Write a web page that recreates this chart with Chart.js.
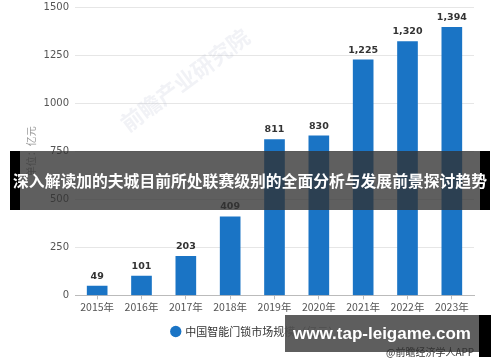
<!DOCTYPE html>
<html>
<head>
<meta charset="utf-8">
<script src="https://cdn.jsdelivr.net/npm/chart.js@4"></script>
<style>
  html, body { margin: 0; padding: 0; background: #fff; }
  #wrap { position: relative; width: 500px; height: 362px; overflow: hidden; }
  canvas { position: absolute; left: 0; top: -5px; }
  .band {
    position: absolute; left: 10px; top: 151px; width: 480px; height: 59px;
    background: rgba(50,50,50,0.78);
  }
  .band .lside, .band .rside { position: absolute; top: 0; width: 10px; height: 59px; background: #000; }
  .band .lside { left: 0; }
  .band .rside { right: 0; }
  .band .txt {
    position: absolute; left: 0; top: 0; width: 480px; height: 59px;
    color: #fff; font: bold 15.8px "Noto Sans CJK SC", sans-serif;
    line-height: 59px; text-align: center; white-space: nowrap;
  }
  .url {
    position: absolute; left: 285px; top: 315px; width: 194px; height: 37px;
    background: rgba(80,80,80,0.92);
    color: #fff; font: bold 17px "Liberation Sans", sans-serif; line-height: 37px; text-align: center;
  }
  .urlside { position: absolute; left: 479px; top: 315px; width: 12px; height: 42px; background: #000; }
  .src {
    position: absolute; left: 386px; top: 344px; color: #333;
    font: 10px "Noto Sans CJK SC", sans-serif;
  }
</style>
</head>
<body>
<div id="wrap">
  <canvas id="myChart" width="500" height="367"></canvas>
  <div class="band"><div class="lside"></div><div class="rside"></div>
    <div class="txt">深入解读加的夫城目前所处联赛级别的全面分析与发展前景探讨趋势</div></div>
  <div class="url">www.tap-leigame.com</div>
  <div class="urlside"></div>
  <div class="src">@前瞻经济学人APP</div>
</div>
<script>
// chart data
var years = ['2015年', '2016年', '2017年', '2018年', '2019年', '2020年', '2021年', '2022年', '2023年'];
var marketSize = [49, 101, 203, 409, 811, 830, 1225, 1320, 1394];
var yTicks = [0, 250, 500, 750, 1000, 1250, 1500];
var seriesName = '中国智能门锁市场规模（亿元）';
var unitTitle = '单位：亿元';

var cjk = '"Noto Sans CJK SC", sans-serif';

// value labels over the bars + faint watermark
var barLabels = {
  id: 'barLabels',
  afterLayout: function(chart) {
    // legend sits a bit right of centre in the original
    chart.legend.left += 6;
    chart.legend.right += 6;
  },
  beforeDatasetsDraw: function(chart) {
    var c = chart.ctx;
    c.save();
    c.translate(185, 85);
    c.rotate(-0.64);
    c.fillStyle = 'rgba(190,198,212,0.22)';
    c.font = 'bold 22px ' + cjk;
    c.textAlign = 'center';
    c.fillText('前瞻产业研究院', 0, 0);
    c.restore();
  },
  afterDatasetsDraw: function(chart) {
    var c = chart.ctx;
    var meta = chart.getDatasetMeta(0);
    c.save();
    c.fillStyle = '#333';
    c.font = 'bold 9.5px "DejaVu Sans", sans-serif';
    c.textAlign = 'center';
    c.textBaseline = 'bottom';
    meta.data.forEach(function(bar, i) {
      c.fillText(marketSize[i].toLocaleString('en-US'), bar.x, bar.y - 5);
    });
    c.restore();
  }
};

var ctx = document.getElementById('myChart').getContext('2d');
var chart = new Chart(ctx, {
  type: 'bar',
  data: {
    labels: years,
    datasets: [{
      label: seriesName,
      backgroundColor: '#1a74c5',
      borderWidth: 0,
      data: marketSize,
      barThickness: 20
    }]
  },
  plugins: [barLabels],
  options: {
    responsive: false,
    animation: false,
    layout: { padding: { top: -3, right: 26, bottom: 15, left: 25 } },
    plugins: {
      legend: {
        position: 'bottom',
        labels: {
          usePointStyle: true,
          pointStyle: 'circle',
          boxWidth: 8,
          boxHeight: 8,
          color: '#333',
          font: { family: cjk, size: 11 },
          padding: 12
        }
      },
      tooltip: { enabled: false }
    },
    scales: {
      x: {
        grid: { display: true, drawOnChartArea: false, offset: false, tickLength: 4, color: '#bbb' },
        border: { color: '#bbb' },
        ticks: { color: '#555', font: { family: cjk, size: 10.5 }, padding: 1 }
      },
      y: {
        min: 0,
        max: 1500,
        afterBuildTicks: function(axis) {
          axis.ticks = yTicks.map(function(v) { return { value: v }; });
        },
        afterFit: function(axis) { axis.width = 50; },
        grid: { color: '#e6e6e6', tickLength: 0 },
        border: { display: false },
        title: {
          display: true,
          text: unitTitle,
          color: '#999',
          font: { family: cjk, size: 10 },
          padding: 0
        },
        ticks: {
          color: '#555',
          font: { family: '"DejaVu Sans", sans-serif', size: 10 },
          padding: 6,
          callback: function(v) { return String(v); }
        }
      }
    }
  }
});
</script>
</body>
</html>
